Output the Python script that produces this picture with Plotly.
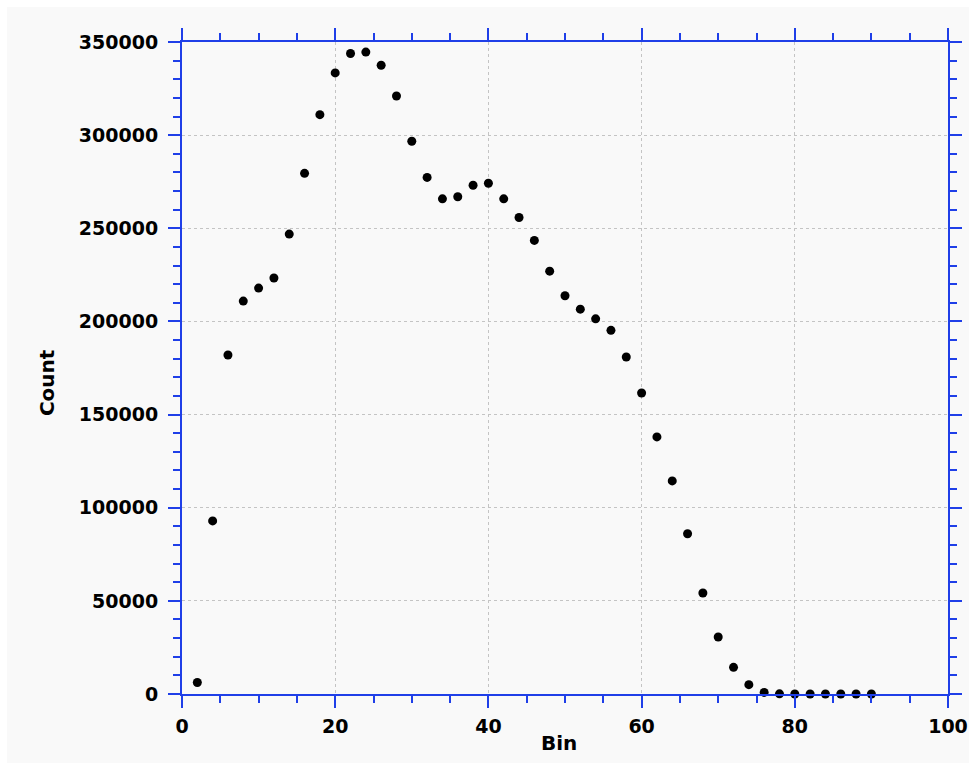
import plotly.graph_objects as go

# Histogram bin centres and counts
bins = [2, 4, 6, 8, 10, 12, 14, 16, 18, 20, 22, 24, 26, 28, 30, 32, 34, 36, 38, 40,
        42, 44, 46, 48, 50, 52, 54, 56, 58, 60, 62, 64, 66, 68, 70, 72, 74, 76, 78, 80,
        82, 84, 86, 88, 90]
counts = [6200, 92900, 182000, 210900, 217900, 223300, 246900, 279500, 311000, 333400,
          343800, 344600, 337500, 321000, 296700, 277300, 265800, 266900, 273100, 274200,
          265800, 255800, 243500, 227000, 213800, 206600, 201400, 195200, 180900, 161600,
          138000, 114400, 86000, 54200, 30600, 14300, 5000, 860, 100, 0,
          0, 0, 0, 0, 0]

x_ticks = [0, 20, 40, 60, 80, 100]
y_ticks = [0, 50000, 100000, 150000, 200000, 250000, 300000, 350000]

AXIS_BLUE = "#1f3fe8"
BG = "#f9f9f9"
tick_font = dict(family="DejaVu Sans", size=19, color="black", weight="bold")
title_font = dict(family="DejaVu Sans", size=20, color="black", weight="bold")

# plot-area size in pixels, used to place the titles and page strips
PW, PH = 766.6, 652.6

fig = go.Figure()
fig.add_trace(go.Scatter(
    x=bins, y=counts, mode="markers",
    marker=dict(color="black", size=9),
    cliponaxis=False, showlegend=False,
))

axis_common = dict(
    showline=True, linecolor=AXIS_BLUE, linewidth=2,
    mirror="allticks", ticks="outside", ticklen=12, tickwidth=2, tickcolor=AXIS_BLUE,
    showgrid=True, gridcolor="#c4c4c4", gridwidth=1, griddash="dot",
    zeroline=False, tickfont=tick_font, automargin=False,
)

fig.update_xaxes(
    range=[0, 100], tickvals=x_ticks, ticktext=[str(v) for v in x_ticks],
    minor=dict(dtick=5, tick0=0, ticks="outside", ticklen=7, tickwidth=2,
               tickcolor=AXIS_BLUE, showgrid=False),
    ticklabelstandoff=2,
    **axis_common,
)
fig.update_yaxes(
    range=[0, 350000], tickvals=y_ticks, ticktext=[str(v) for v in y_ticks],
    minor=dict(dtick=10000, tick0=0, ticks="outside", ticklen=7, tickwidth=2,
               tickcolor=AXIS_BLUE, showgrid=False),
    ticklabelstandoff=6,
    **axis_common,
)

fig.update_layout(
    width=969, height=763,
    margin=dict(l=182, r=21, t=42, b=69, autoexpand=False),
    paper_bgcolor=BG, plot_bgcolor=BG,
    annotations=[
        dict(text="Bin", x=0.5 - 6 / PW, xref="paper", y=-49 / PH, yref="paper",
             showarrow=False, font=title_font, xanchor="center", yanchor="middle"),
        dict(text="Count", x=-135 / PW, xref="paper", y=0.477, yref="paper", textangle=-90,
             showarrow=False, font=title_font, xanchor="center", yanchor="middle"),
    ],
    shapes=[
        dict(type="rect", xref="paper", yref="paper", x0=-0.3, x1=1.1, y0=1.0 + 35 / PH,
             y1=1.2, fillcolor="white", line_width=0, layer="below"),
        dict(type="rect", xref="paper", yref="paper", x0=-0.3, x1=-175 / PW, y0=-0.2,
             y1=1.2, fillcolor="white", line_width=0, layer="below"),
    ],
)

fig.write_html("out.html")
